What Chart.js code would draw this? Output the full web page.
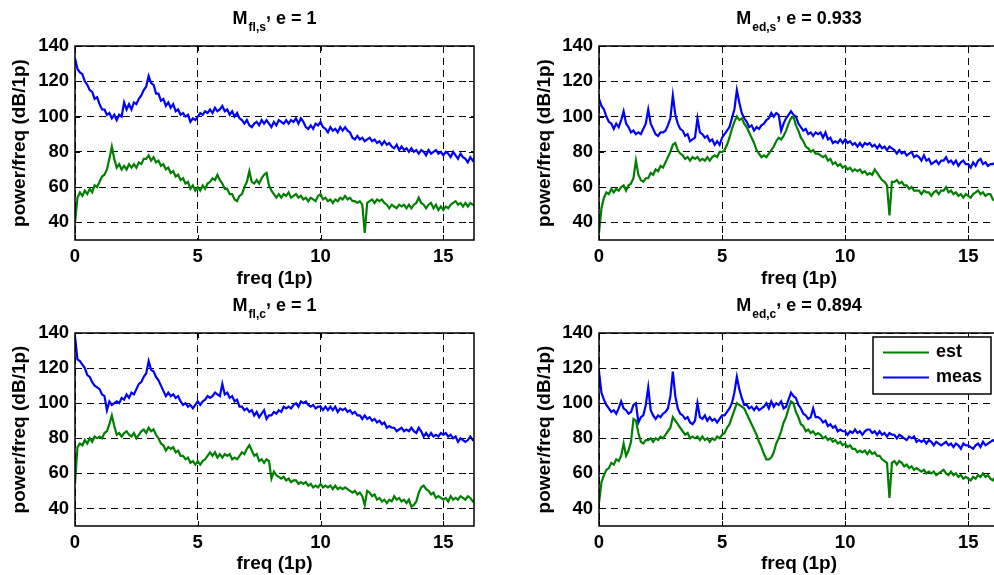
<!DOCTYPE html>
<html>
<head>
<meta charset="utf-8">
<script src="https://cdn.jsdelivr.net/npm/chart.js@4/dist/chart.umd.min.js"></script>
<style>
  html, body { margin: 0; padding: 0; background: #fff; overflow: hidden; }
  body { width: 994px; height: 575px; position: relative; }
  canvas { position: absolute; }
</style>
</head>
<body>
<canvas id="flS" width="497" height="290" style="left:0;top:0"></canvas>
<canvas id="edS" width="503" height="290" style="left:497px;top:0"></canvas>
<canvas id="flC" width="497" height="288" style="left:0;top:287px"></canvas>
<canvas id="edC" width="503" height="288" style="left:497px;top:287px"></canvas>
<script>
  // frequency axis (1p), shared by all four panels
  const freq = [
    0.0, 0.1, 0.2, 0.3, 0.4, 0.5, 0.6, 0.7, 0.8, 0.9,
    1.0, 1.1, 1.2, 1.3, 1.4, 1.5, 1.6, 1.7, 1.8, 1.9,
    2.0, 2.1, 2.2, 2.3, 2.4, 2.5, 2.6, 2.7, 2.8, 2.9,
    3.0, 3.1, 3.2, 3.3, 3.4, 3.5, 3.6, 3.7, 3.8, 3.9,
    4.0, 4.1, 4.2, 4.3, 4.4, 4.5, 4.6, 4.7, 4.8, 4.9,
    5.0, 5.1, 5.2, 5.3, 5.4, 5.5, 5.6, 5.7, 5.8, 5.9,
    6.0, 6.1, 6.2, 6.3, 6.4, 6.5, 6.6, 6.7, 6.8, 6.9,
    7.0, 7.1, 7.2, 7.3, 7.4, 7.5, 7.6, 7.7, 7.8, 7.9,
    8.0, 8.1, 8.2, 8.3, 8.4, 8.5, 8.6, 8.7, 8.8, 8.9,
    9.0, 9.1, 9.2, 9.3, 9.4, 9.5, 9.6, 9.7, 9.8, 9.9,
    10.0, 10.1, 10.2, 10.3, 10.4, 10.5, 10.6, 10.7, 10.8, 10.9,
    11.0, 11.1, 11.2, 11.3, 11.4, 11.5, 11.6, 11.7, 11.8, 11.9,
    12.0, 12.1, 12.2, 12.3, 12.4, 12.5, 12.6, 12.7, 12.8, 12.9,
    13.0, 13.1, 13.2, 13.3, 13.4, 13.5, 13.6, 13.7, 13.8, 13.9,
    14.0, 14.1, 14.2, 14.3, 14.4, 14.5, 14.6, 14.7, 14.8, 14.9,
    15.0, 15.1, 15.2, 15.3, 15.4, 15.5, 15.6, 15.7, 15.8, 15.9,
    16.0, 16.1, 16.2, 16.3
  ];

  const xTicks = [0, 5, 10, 15];
  const yTicks = [40, 60, 80, 100, 120, 140];
  const seriesLabels = ['est', 'meas'];

  // M_fl,s
  const flSEst = [
    40, 54, 57, 55, 58, 56, 59, 57, 61, 60,
    63, 66, 67, 70, 76, 83, 76, 71, 73, 70,
    72, 70, 73, 71, 73, 71, 74, 73, 76, 76,
    78, 75, 77, 74, 75, 72, 73, 70, 71, 68,
    69, 66, 67, 64, 65, 62, 63, 59, 61, 58,
    60, 58, 61, 59, 62, 63, 65, 64, 67, 64,
    62, 59, 59, 56, 56, 53, 52, 55, 56, 60,
    63, 69, 63, 62, 64, 62, 65, 67, 68, 61,
    58, 56, 54, 56, 54, 56, 55, 57, 54, 55,
    56, 54, 55, 53, 54, 52, 54, 53, 52, 55,
    56, 53, 54, 52, 53, 51, 53, 52, 54, 53,
    55, 53, 54, 52, 52, 51, 52, 50, 34, 51,
    52, 53, 51, 53, 52, 53, 51, 50, 48, 50,
    49, 48, 50, 49, 50, 48, 50, 48, 50, 51,
    54, 51, 50, 48, 50, 51, 48, 50, 47, 49,
    47, 49, 48, 50, 51, 52, 50, 51, 49, 51,
    49, 51, 50, 50
  ];
  const flSMeas = [
    133, 127, 125, 124, 120, 118, 115, 114, 110, 111,
    107, 104, 104, 101, 102, 99, 101, 98, 101, 100,
    108, 104, 107, 104, 108, 107, 110, 112, 115, 117,
    123, 119, 118, 113, 113, 109, 110, 106, 108, 105,
    107, 103, 104, 101, 102, 100, 101, 97, 99, 98,
    100, 102, 101, 103, 102, 104, 102, 105, 103, 104,
    106, 103, 104, 101, 103, 100, 102, 99, 98, 96,
    98, 95, 94, 96, 97, 95, 98, 96, 98, 96,
    94, 97, 95, 98, 97, 96, 98, 96, 98, 97,
    99, 96, 99, 97, 94, 93, 95, 93, 96, 95,
    97, 94, 93, 91, 94, 92, 93, 91, 94, 92,
    94, 92, 91, 88, 87, 89, 87, 88, 86, 87,
    88, 86, 87, 85, 86, 84, 86, 84, 85, 83,
    82, 84, 81, 83, 81, 82, 80, 82, 80, 81,
    79, 81, 80, 78, 81, 79, 80, 81, 79, 80,
    78, 80, 79, 77, 80, 78, 76, 79, 77, 76,
    74, 77, 75, 77
  ];

  // M_ed,s
  const edSEst = [
    34, 48, 54, 57, 56, 59, 57, 59, 58, 60,
    61, 58, 61, 62, 65, 75, 67, 64, 63, 65,
    65, 68, 67, 70, 69, 72, 71, 74, 77, 80,
    84, 85, 81, 79, 78, 76, 77, 75, 77, 76,
    77, 75, 76, 75, 77, 75, 77, 78, 77, 80,
    80, 81, 84, 88, 93, 97, 100, 98, 99, 96,
    94, 91, 88, 85, 81, 79, 77, 78, 77, 79,
    81, 83, 86, 88, 87, 89, 92, 96, 99, 100,
    95, 92, 88, 86, 83, 82, 80, 81, 79, 79,
    78, 77, 78, 75, 76, 73, 74, 72, 73, 71,
    72, 70, 71, 69, 70, 69, 70, 68, 69, 67,
    68, 67, 70, 68, 66, 64, 63, 61, 44, 63,
    63, 64, 62, 63, 61, 61, 59, 60, 58, 58,
    58, 56, 58, 57, 57, 55, 57, 58, 56, 58,
    58, 60, 57, 58, 56, 57, 55, 56, 54, 56,
    55, 54, 56, 57, 58, 56, 57, 55, 56, 56,
    53, 52, 53, 53
  ];
  const edSMeas = [
    110, 106, 104, 100, 97, 96, 93, 96, 94, 98,
    103, 96, 94, 91, 92, 90, 91, 90, 93, 96,
    104, 96, 93, 90, 89, 91, 91, 92, 95, 99,
    112, 101, 96, 93, 92, 89, 90, 86, 87, 88,
    99, 91, 90, 88, 89, 86, 87, 84, 86, 84,
    88, 90, 92, 94, 99, 104, 115, 108, 102, 99,
    97, 94, 95, 92, 94, 93, 95, 96, 98, 99,
    102, 100, 102, 101, 92, 96, 99, 101, 103, 101,
    100, 96, 94, 92, 93, 90, 91, 89, 91, 90,
    91, 88, 91, 87, 88, 85, 86, 85, 87, 85,
    87, 85, 86, 84, 85, 83, 85, 83, 85, 84,
    85, 83, 84, 82, 84, 82, 83, 81, 83, 82,
    81, 79, 81, 79, 80, 78, 79, 80, 77, 78,
    77, 75, 78, 75, 76, 73, 74, 75, 73, 75,
    75, 77, 74, 75, 73, 75, 72, 74, 75, 73,
    73, 71, 74, 72, 75, 76, 73, 74, 72, 73,
    73, 74, 73, 74
  ];

  // M_fl,c
  const flCEst = [
    54, 75, 77, 76, 79, 77, 80, 78, 81, 80,
    81, 80, 83, 84, 88, 93, 87, 82, 83, 81,
    83, 84, 82, 81, 83, 80, 82, 84, 85, 83,
    86, 84, 85, 82, 80, 77, 76, 73, 75, 74,
    75, 72, 73, 70, 70, 68, 69, 66, 67, 65,
    67, 65, 67, 68, 70, 72, 70, 72, 69, 71,
    69, 71, 70, 71, 68, 69, 68, 70, 72, 71,
    74, 76, 73, 70, 71, 67, 68, 66, 68, 67,
    57, 61, 59, 58, 57, 58, 56, 57, 55, 56,
    56, 54, 55, 54, 55, 53, 54, 52, 53, 52,
    54, 52, 53, 52, 53, 51, 53, 51, 52, 51,
    52, 51, 50, 49, 50, 48, 49, 47, 42, 50,
    49, 47, 48, 45, 46, 44, 45, 43, 45, 44,
    47, 45, 46, 44, 45, 43, 45, 41, 42, 44,
    49, 52, 53, 51, 50, 48, 49, 46, 47, 46,
    45, 46, 44, 47, 45, 46, 45, 47, 46, 45,
    47, 46, 44, 45
  ];
  const flCMeas = [
    138, 125, 124, 122, 120, 116, 115, 112, 110, 109,
    108, 105, 104, 96, 101, 99, 100, 101, 100, 103,
    102, 105, 103, 106, 105, 108, 111, 112, 115, 117,
    124, 119, 118, 115, 113, 110, 107, 104, 106, 104,
    105, 103, 104, 101, 99, 100, 98, 99, 97, 99,
    101, 99, 101, 102, 104, 103, 104, 106, 105, 104,
    111, 105, 106, 103, 104, 101, 102, 98, 98, 96,
    97, 95, 96, 93, 95, 92, 94, 96, 91, 93,
    93, 95, 94, 96, 95, 98, 97, 98, 97, 99,
    100, 98, 101, 100, 101, 99, 98, 99, 97, 98,
    98, 96, 98, 96, 98, 96, 98, 95, 97, 96,
    97, 95, 96, 94, 95, 93, 93, 91, 93, 91,
    92, 90, 91, 89, 90, 88, 89, 86, 87, 86,
    86, 84, 85, 86, 84, 85, 84, 86, 84, 83,
    86, 84, 81, 83, 81, 83, 81, 82, 81, 83,
    82, 83, 81, 82, 80, 81, 78, 80, 79, 78,
    79, 81, 79, 80
  ];

  // M_ed,c
  const edCEst = [
    43, 55, 59, 62, 63, 66, 65, 68, 67, 70,
    77, 70, 73, 78, 91, 90, 83, 78, 77, 79,
    79, 80, 78, 80, 79, 81, 80, 82, 84, 86,
    92, 90, 88, 86, 84, 82, 83, 80, 81, 80,
    81, 79, 81, 79, 80, 78, 80, 79, 81, 80,
    82, 83, 86, 88, 92, 96, 100, 99, 98, 97,
    94, 91, 88, 85, 82, 78, 75, 71, 68, 68,
    69, 72, 77, 80, 84, 89, 92, 97, 101, 100,
    95, 92, 88, 87, 84, 85, 83, 84, 82, 83,
    82, 80, 81, 79, 80, 78, 79, 77, 78, 76,
    77, 75, 76, 74, 74, 72, 73, 72, 73, 71,
    73, 71, 72, 70, 70, 68, 67, 66, 46, 66,
    67, 65, 67, 66, 64, 65, 63, 64, 62, 63,
    62, 61, 62, 60, 61, 60, 61, 59, 60, 61,
    62, 60, 59, 61, 59, 60, 58, 59, 57, 58,
    57, 56, 58, 57, 59, 58, 60, 58, 59, 57,
    56, 58, 57, 57
  ];
  const edCMeas = [
    118, 106, 102, 99, 97, 95, 96, 94, 97, 101,
    97, 96, 94, 95, 99, 100, 89, 92, 93, 99,
    109, 96, 93, 91, 93, 92, 94, 95, 97, 104,
    118, 104, 97, 94, 93, 91, 92, 89, 88, 90,
    100, 92, 91, 93, 90, 92, 90, 91, 89, 91,
    93, 93, 95, 97, 100, 106, 115, 108, 103, 99,
    99, 97, 98, 96, 98, 96, 97, 98, 100, 97,
    101, 98, 100, 99, 101, 97, 98, 102, 106, 104,
    103, 99, 97, 94, 93, 91, 92, 97, 92, 92,
    91, 89, 90, 87, 88, 86, 87, 84, 85, 84,
    84, 82, 84, 83, 85, 83, 84, 82, 84, 85,
    85, 83, 84, 82, 84, 82, 83, 81, 83, 82,
    82, 80, 82, 81, 80, 79, 81, 80, 81, 78,
    79, 78, 79, 77, 79, 78, 76, 78, 77, 76,
    77, 78, 76, 77, 75, 77, 76, 74, 77, 76,
    76, 75, 74, 76, 77, 75, 78, 76, 77, 78,
    79, 78, 79, 79
  ];

  const FONT = "'Liberation Sans', Arial, Helvetica, sans-serif";
  const EST_COLOR = '#008000';
  const MEAS_COLOR = '#0000ff';

  // matlab style box, inward ticks, subscripted title and boxed legend
  const matlabFrame = {
    id: 'matlabFrame',
    afterDraw(chart, args, opts) {
      const ctx = chart.ctx;
      const a = chart.chartArea;
      const xs = chart.scales.x, ys = chart.scales.y;
      ctx.save();
      ctx.setLineDash([]);
      ctx.strokeStyle = '#000';
      ctx.lineWidth = 1;
      ctx.beginPath();
      xs.ticks.forEach(t => {
        const px = Math.round(xs.getPixelForValue(t.value)) + 0.5;
        ctx.moveTo(px, a.bottom); ctx.lineTo(px, a.bottom - 5);
        ctx.moveTo(px, a.top); ctx.lineTo(px, a.top + 5);
      });
      ys.ticks.forEach(t => {
        const py = Math.round(ys.getPixelForValue(t.value)) + 0.5;
        ctx.moveTo(a.left, py); ctx.lineTo(a.left + 5, py);
        ctx.moveTo(a.right, py); ctx.lineTo(a.right - 5, py);
      });
      ctx.stroke();
      ctx.lineWidth = 1.5;
      ctx.strokeRect(a.left, a.top, a.right - a.left, a.bottom - a.top);

      // title: M with subscript
      const t = opts.title;
      const big = 'bold 18px ' + FONT, small = 'bold 12px ' + FONT;
      ctx.fillStyle = '#000';
      ctx.textAlign = 'left';
      ctx.textBaseline = 'alphabetic';
      ctx.font = big;
      const wMain = ctx.measureText(t.main).width;
      const wComma = ctx.measureText(',').width;
      const wRest = ctx.measureText(t.rest).width;
      ctx.font = small;
      const wSub = ctx.measureText(t.sub).width;
      const total = wMain + 1 + wSub + wComma + wRest;
      let tx = (a.left + a.right) / 2 - total / 2;
      const base = a.top - 22;
      ctx.font = big;
      ctx.fillText(t.main, tx, base);
      tx += wMain + 1;
      ctx.font = small;
      ctx.fillText(t.sub, tx, base + 7);
      tx += wSub;
      ctx.font = big;
      ctx.fillText(',', tx, base - 5);
      tx += wComma;
      ctx.fillText(t.rest, tx, base);

      if (opts.legend) {
        const bw = 118, bh = 57;
        const bx = a.right - 8 - bw, by = a.top + 4;
        ctx.fillStyle = '#fff';
        ctx.fillRect(bx, by, bw, bh);
        ctx.strokeStyle = '#000';
        ctx.lineWidth = 1.5;
        ctx.strokeRect(bx, by, bw, bh);
        chart.data.datasets.forEach((ds, i) => {
          const cy = by + 15.5 + i * 25;
          ctx.strokeStyle = ds.borderColor;
          ctx.lineWidth = 2;
          ctx.beginPath();
          ctx.moveTo(bx + 10, cy);
          ctx.lineTo(bx + 56, cy);
          ctx.stroke();
          ctx.fillStyle = '#000';
          ctx.font = 'bold 18px ' + FONT;
          ctx.textBaseline = 'middle';
          ctx.fillText(ds.label, bx + 63, cy);
        });
      }
      ctx.restore();
    }
  };

  function toPoints(values) {
    return freq.map((f, i) => ({ x: f, y: values[i] }));
  }

  function createPanel(canvasId, est, meas, cfg) {
    const tickFont = { family: FONT, size: 18.5, weight: 'bold' };
    const titleFont = { family: FONT, size: 19, weight: 'bold' };
    const ctx = document.getElementById(canvasId).getContext('2d');
    new Chart(ctx, {
      type: 'line',
      data: {
        datasets: [
          { label: seriesLabels[0], data: toPoints(est), borderColor: EST_COLOR, borderWidth: 2.2, pointRadius: 0, fill: false, tension: 0 },
          { label: seriesLabels[1], data: toPoints(meas), borderColor: MEAS_COLOR, borderWidth: 2.2, pointRadius: 0, fill: false, tension: 0 }
        ]
      },
      options: {
        responsive: false,
        animation: false,
        events: [],
        layout: { padding: { top: 46, right: cfg.padRight, left: 0, bottom: 0 } },
        plugins: {
          legend: { display: false },
          tooltip: { enabled: false },
          matlabFrame: { title: cfg.title, legend: cfg.legend }
        },
        scales: {
          x: {
            type: 'linear',
            min: 0,
            max: 16.25,
            afterBuildTicks: s => { s.ticks = xTicks.map(v => ({ value: v })); },
            afterFit: s => { s.height = cfg.xAxisHeight; },
            grid: { color: '#000', lineWidth: 1, drawTicks: false },
            border: { display: false, dash: [7, 5] },
            ticks: { color: '#000', font: tickFont, padding: 6, maxRotation: 0 },
            title: { display: true, text: 'freq (1p)', color: '#000', font: titleFont, padding: { top: 0, bottom: 0 } }
          },
          y: {
            min: 30,
            max: 140,
            afterBuildTicks: s => { s.ticks = yTicks.map(v => ({ value: v })); },
            afterFit: s => { s.width = cfg.yAxisWidth; },
            grid: { color: '#000', lineWidth: 1, drawTicks: false },
            border: { display: false, dash: [7, 5] },
            ticks: { color: '#000', font: tickFont, padding: 6 },
            title: { display: true, text: 'power/freq (dB/1p)', color: '#000', font: titleFont, padding: { top: cfg.yTitlePad, bottom: 0 } }
          }
        }
      },
      plugins: [matlabFrame]
    });
  }

  createPanel('flS', flSEst, flSMeas, {
    title: { main: 'M', sub: 'fl,s', rest: ' e = 1' },
    yAxisWidth: 75, padRight: 23, xAxisHeight: 50, yTitlePad: 8, legend: false
  });
  createPanel('edS', edSEst, edSMeas, {
    title: { main: 'M', sub: 'ed,s', rest: ' e = 0.933' },
    yAxisWidth: 102, padRight: 1, xAxisHeight: 50, yTitlePad: 36, legend: false
  });
  createPanel('flC', flCEst, flCMeas, {
    title: { main: 'M', sub: 'fl,c', rest: ' e = 1' },
    yAxisWidth: 75, padRight: 23, xAxisHeight: 49, yTitlePad: 8, legend: false
  });
  createPanel('edC', edCEst, edCMeas, {
    title: { main: 'M', sub: 'ed,c', rest: ' e = 0.894' },
    yAxisWidth: 102, padRight: 1, xAxisHeight: 49, yTitlePad: 36, legend: true
  });
</script>
</body>
</html>
